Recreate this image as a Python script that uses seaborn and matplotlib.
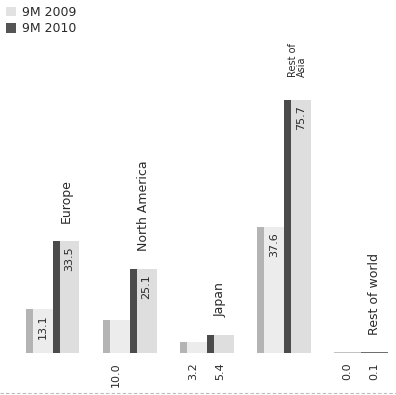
import matplotlib
matplotlib.use("Agg")
import matplotlib.pyplot as plt
from matplotlib.patches import Rectangle, Patch
from matplotlib.transforms import offset_copy
import seaborn as sns
import pandas as pd

regions = ["Europe", "North America", "Japan", "Rest of\nAsia", "Rest of world"]
periods = ["9M 2009", "9M 2010"]
values_2009 = [13.1, 10.0, 3.2, 37.6, 0.0]
values_2010 = [33.5, 25.1, 5.4, 75.7, 0.1]

front_colors = {"9M 2009": "#ececec", "9M 2010": "#dedede"}
side_colors = {"9M 2009": "#b4b4b4", "9M 2010": "#4b4b4b"}
legend_colors = {"9M 2009": "#e2e2e2", "9M 2010": "#555555"}
text_color = "#2a2a2a"

df = pd.DataFrame({
    "region": regions * 2,
    "period": [periods[0]] * len(regions) + [periods[1]] * len(regions),
    "value": values_2009 + values_2010,
})

sns.set_theme(style="white")
plt.rcParams["font.family"] = ["DejaVu Sans"]

fig = plt.figure(figsize=(3.96, 3.95), dpi=100)
ax = fig.add_axes([0, 0, 1, 1])

sns.barplot(data=df, x="region", y="value", hue="period", order=regions,
            hue_order=periods, palette=front_colors, width=0.7,
            linewidth=0, saturation=1, legend=False, ax=ax)

ax.set_xlim(-0.681, 4.455)
ax.set_ylim(-12.57, 105.7)
ax.axis("off")

px_per_unit = fig.bbox.height / (105.7 + 12.57)
side_frac = 0.26

# bars are ordered hue-major: all 2009 bars, then all 2010 bars
bars = list(ax.patches)
for k, bar in enumerate(bars):
    period = periods[k // len(regions)]
    i = k % len(regions)
    val = df.loc[(df.period == period) & (df.region == regions[i]), "value"].iloc[0]
    x0, w, h = bar.get_x(), bar.get_width(), bar.get_height()
    side_w = w * side_frac
    if h > 0.5:
        ax.add_patch(Rectangle((x0, 0), side_w, h, facecolor=side_colors[period],
                               linewidth=0, zorder=bar.get_zorder() + 0.1))
    else:
        # flat sliver for near-zero values
        ax.add_patch(Rectangle((x0, 0), w, 0.35, facecolor=side_colors[period],
                               linewidth=0, zorder=3, alpha=0.8))
    label = f"{val:.1f}"
    bar_px = h * px_per_unit
    if bar_px > 38:
        tr = offset_copy(ax.transData, fig=fig, x=0, y=-5, units="dots")
        ax.text(x0 + side_w + (w - side_w) / 2, h, label, rotation=90,
                ha="center", va="top", fontsize=8, color=text_color, transform=tr)
    else:
        tr = offset_copy(ax.transData, fig=fig, x=0, y=-9, units="dots")
        ax.text(x0 + w / 2, 0, label, rotation=90, ha="center", va="top",
                fontsize=8, color=text_color, transform=tr)
    if period == periods[1]:
        two_line = "\n" in regions[i]
        tr = offset_copy(ax.transData, fig=fig, x=0, y=23 if two_line else 18,
                         units="dots")
        ax.text(x0 + w / 2, max(h, 0), regions[i], rotation=90, ha="center",
                va="bottom", fontsize=7 if two_line else 9, color=text_color,
                transform=tr, linespacing=0.9, multialignment="left")

# dashed baseline rule at the bottom
ax.plot([0, 1], [0.006, 0.006], transform=ax.transAxes, color="#bbbbbb",
        linewidth=0.8, linestyle=(0, (3, 2)), clip_on=False)

handles = [Patch(facecolor=legend_colors[p], edgecolor="none", label=p) for p in periods]
leg = ax.legend(handles=handles, loc="upper left", bbox_to_anchor=(0.0, 1.0), frameon=False,
                fontsize=9, handlelength=0.75, handleheight=0.75, handletextpad=0.5,
                labelspacing=0.25, borderaxespad=0.3, borderpad=0.2)
for t in leg.get_texts():
    t.set_color(text_color)

fig.savefig("out.png", dpi=100)
